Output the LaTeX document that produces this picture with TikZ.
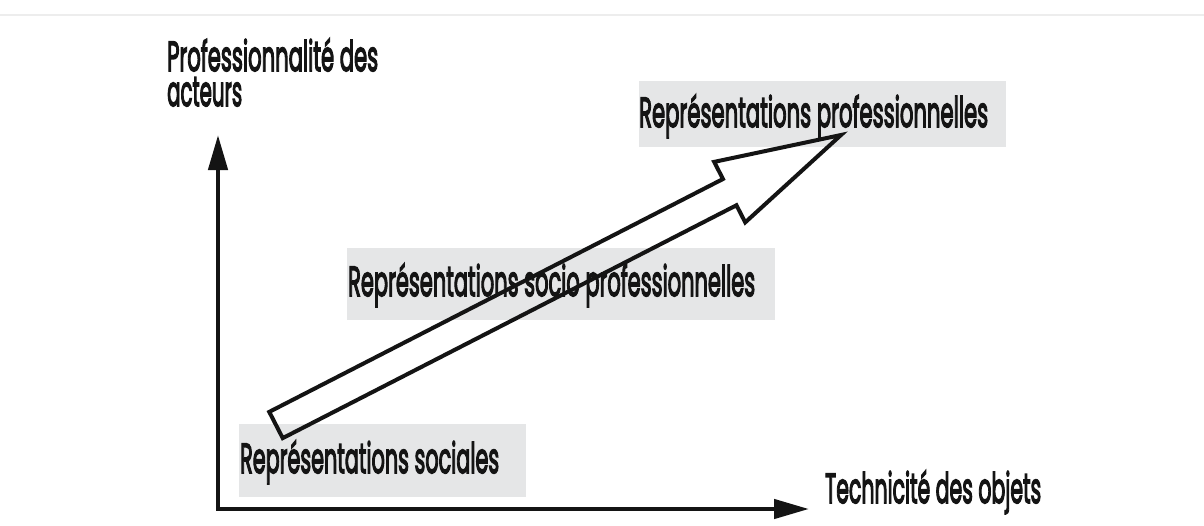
\documentclass[tikz,border=0pt]{standalone}
\usepackage{fontspec}
\setmainfont{Poppins}[FakeBold=4]
\usetikzlibrary{arrows.meta,calc}
\definecolor{boxgray}{RGB}{229,230,231}
\definecolor{inkc}{RGB}{20,20,20}
\newcommand\fitw[2]{\resizebox{#1}{\height}{#2}}
\begin{document}
\begin{tikzpicture}[x=1pt,y=-1pt,
  lbl/.style={anchor=base west, inner sep=0pt, text=inkc, font=\fontsize{42pt}{35pt}\selectfont},
  graybox/.style={fill=boxgray, draw=none, anchor=north west, inner sep=0pt},
  axis/.style={line width=4.5pt, draw=inkc, line join=miter, {Triangle[length=35pt,width=19pt]}-{Triangle[length=35pt,width=19pt]}},
  bigarrow/.style={line width=4pt, draw=inkc, line join=miter},
  faint/.style={draw=black!7, line width=1.5pt}
]
\useasboundingbox[fill=white] (0,0) rectangle (1204,525);
\coordinate (tl) at (0,15);
\coordinate (tr) at (1204,15);
\draw[faint] (tl) -- (tr);

% gray boxes
\node[graybox, minimum width=287pt, minimum height=73pt] (b1) at (239,424) {};
\node[graybox, minimum width=428pt, minimum height=72pt] (b2) at (347,248) {};
\node[graybox, minimum width=367pt, minimum height=66pt] (b3) at (639,81) {};

% labels
\node[lbl, align=left] (yl) at (167,106) {\fitw{211pt}{Professionnalité des}\\\fitw{75pt}{acteurs}};
\node[lbl] (xl) at (825,503) {\fitw{216pt}{Technicité des objets}};
\node[lbl] (t1) at (240,473) {\fitw{259pt}{Représentations sociales}};
\node[lbl] (t2) at (348,296) {\fitw{407pt}{Représentations socio professionnelles}};
\node[lbl] (t3) at (639,127) {\fitw{349pt}{Représentations professionnelles}};

% axes
\coordinate (O) at (218,509);
\coordinate (ytip) at (218,135);
\coordinate (xtip) at (809,509);
\draw[axis] (ytip) -- (O) -- (xtip);

% big arrow
\coordinate (tail) at (276,425);
\coordinate (tip) at (841,135);
\coordinate (hb) at ($(tail)!510pt!(tip)$);
\draw[bigarrow]
  ($(tail)!14.75pt!90:(tip)$) --
  ($(hb)!14.75pt!-90:(tail)$) --
  ($(hb)!34pt!-90:(tail)$) --
  (tip) --
  ($(hb)!34pt!90:(tail)$) --
  ($(hb)!14.75pt!90:(tail)$) --
  ($(tail)!14.75pt!-90:(tip)$) -- cycle;
\end{tikzpicture}
\end{document}
